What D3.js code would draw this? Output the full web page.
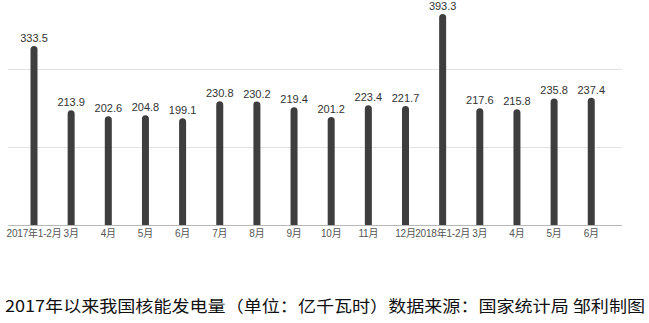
<!DOCTYPE html>
<html><head><meta charset="utf-8">
<script src="https://cdn.jsdelivr.net/npm/d3@7"></script>
<style>
html,body{margin:0;padding:0;background:#fff;}
svg{display:block;}
</style></head>
<body>
<svg id="c" width="649" height="323"></svg>
<script>
const categories = ["2017年1-2月","3月","4月","5月","6月","7月","8月","9月","10月","11月","12月","2018年1-2月","3月","4月","5月","6月"];
const values = [333.5,213.9,202.6,204.8,199.1,230.8,230.2,219.4,201.2,223.4,221.7,393.3,217.6,215.8,235.8,237.4];
const gridValues = [145, 290];
const caption = "2017年以来我国核能发电量（单位：亿千瓦时）数据来源：国家统计局 邹利制图";

const svg = d3.select("#c");
const left = 8, right = 622, baseY = 225;
const n = categories.length;
const step = 37.15;
const firstX = 34;
const x = d3.scaleLinear().domain([0, n-1]).range([firstX, firstX + step*(n-1)]);
const y = d3.scaleLinear().domain([0, 393.3]).range([baseY, 14]);

// gridlines
svg.append("g").selectAll("line").data(gridValues).join("line")
  .attr("x1", left).attr("x2", right)
  .attr("y1", d => Math.round(y(d))+0.5).attr("y2", d => Math.round(y(d))+0.5)
  .attr("stroke", "#e2e2e2").attr("stroke-width", 1);

// bars with rounded tops
const bw = 7, r = 3.5;
svg.append("g").selectAll("path").data(values).join("path")
  .attr("d", (d,i) => {
    const cx = x(i), x0 = cx - bw/2, x1 = cx + bw/2, top = y(d);
    return `M${x0},${baseY} L${x0},${top+r} A${r},${r} 0 0 1 ${x1},${top+r} L${x1},${baseY} Z`;
  })
  .attr("fill", "#3e3e3e");

// baseline
svg.append("line").attr("x1", left).attr("x2", right)
  .attr("y1", baseY+0.5).attr("y2", baseY+0.5)
  .attr("stroke", "#b8b8b8").attr("stroke-width", 1);

// value labels
svg.append("g").selectAll("text").data(values).join("text")
  .attr("x", (d,i) => x(i)).attr("y", d => y(d) - 4)
  .attr("text-anchor", "middle")
  .attr("font-family", "'Liberation Sans', Arial, sans-serif")
  .attr("font-size", 11).attr("fill", "#333")
  .text(d => d.toFixed(1));

// category labels
svg.append("g").selectAll("text").data(categories).join("text")
  .attr("x", (d,i) => x(i)).attr("y", 237)
  .attr("text-anchor", "middle")
  .attr("font-family", "'Liberation Sans', 'Noto Sans CJK SC', sans-serif")
  .attr("font-size", 10).attr("fill", "#555")
  .attr("letter-spacing", -0.2)
  .text(d => d);

// caption
svg.append("text")
  .attr("x", 5).attr("y", 312)
  .attr("textLength", 640).attr("lengthAdjust", "spacingAndGlyphs")
  .attr("font-family", "'Noto Sans CJK SC', sans-serif")
  .attr("font-size", 16).attr("fill", "#111")
  .text(caption);
</script>
</body></html>
